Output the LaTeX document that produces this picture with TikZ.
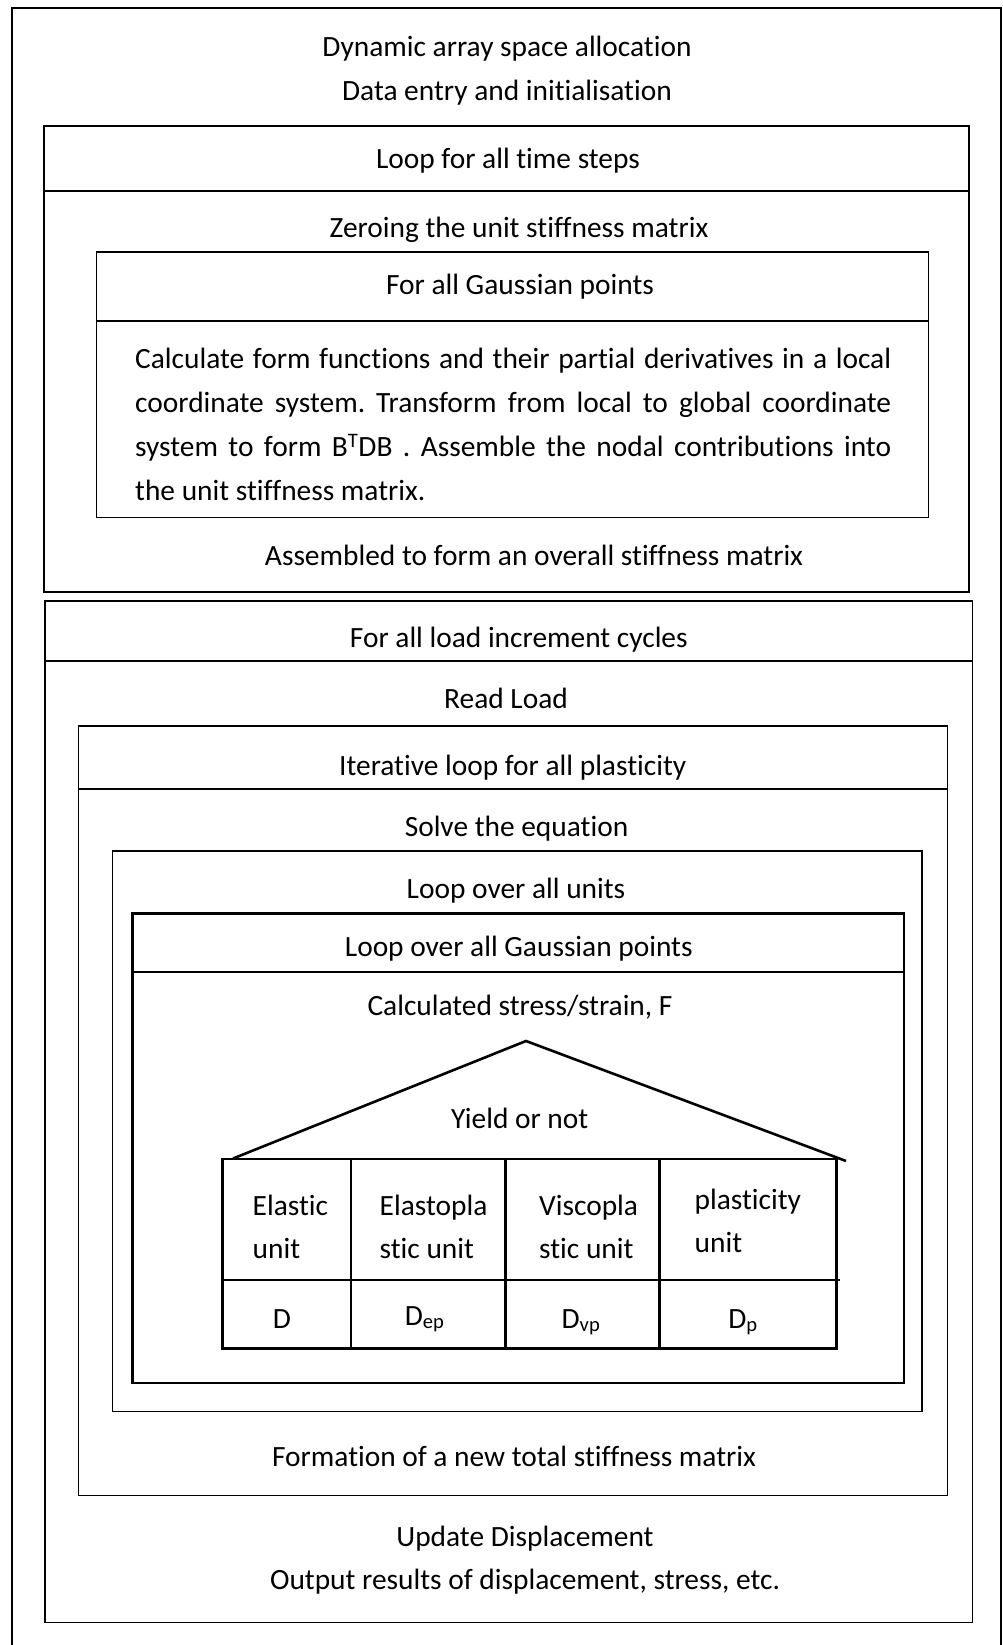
\documentclass[tikz,border=0pt]{standalone}
\usepackage{fontspec}
\setmainfont{Carlito}[Ligatures=NoCommon]
\tikzset{txt/.style={inner sep=0pt,anchor=base,font=\fontsize{29.4}{43}\selectfont\frenchspacing},
         cell/.style={txt,anchor=north west,align=left},
         boxline/.style={draw,line width=1.5pt},
         heavyline/.style={draw,line width=2.6pt}}

\begin{document}
\begin{tikzpicture}[x=1pt,y=-1pt]
\useasboundingbox (0,0) rectangle (1003,1645);
\draw[boxline] (12,1645) -- (12,8) -- (1001,8) -- (1001,1645);
\node[txt] (dyn) at (507,57) {Dynamic array space allocation};
\node[txt] (init) at (507,101) {Data entry and initialisation};

\draw[boxline] (44,126) rectangle (969,592);
\draw[heavyline] (44,191) -- (969,191);
\node[txt] (steps) at (508,169) {Loop for all time steps};
\node[txt] (zero) at (519,237) {Zeroing the unit stiffness matrix};
\draw[boxline] (96.5,252) rectangle (928.5,517.5);
\draw[heavyline] (96.5,321) -- (928.5,321);
\node[txt] (gauss) at (520,294.5) {For all Gaussian points};
\node[txt,anchor=north west,text width=756pt,align=justify,
      font=\fontsize{29.4}{44.2}\selectfont\frenchspacing] (calc) at (135,347.5)
  {Calculate form functions and their partial derivatives in a local\linebreak
   coordinate system. Transform from local to global coordinate\linebreak
   system to form B\textsuperscript{T}DB . Assemble the nodal contributions into\linebreak
   the unit stiffness matrix.};
\node[txt] (assem) at (534,565) {Assembled to form an overall stiffness matrix};

\draw[boxline] (45,601) rectangle (972.7,1622.7);
\draw[heavyline] (45,661) -- (972.7,661);
\node[txt] (cycles) at (518.8,647) {For all load increment cycles};
\node[txt] (readload) at (506,708) {Read Load};
\draw[boxline] (78.5,726) rectangle (947.5,1495.7);
\draw[heavyline] (78.5,789) -- (947.5,789);
\node[txt] (plast) at (512.7,775) {Iterative loop for all plasticity};
\node[txt] (solve) at (516.5,836) {Solve the equation};
\draw[boxline] (112.7,851) rectangle (922,1411.7);
\node[txt] (units) at (516,898) {Loop over all units};
\draw[heavyline] (132.5,913.3) rectangle (904,1383);
\draw[heavyline] (132.5,972) -- (904,972);
\node[txt] (gpoints) at (518.8,956.5) {Loop over all Gaussian points};
\node[txt] (stress) at (520,1015) {Calculated stress/strain, F};

\draw[heavyline] (233,1158.5) -- (526,1041) -- (846,1161);
\node[txt] (yield) at (519.7,1128.5) {Yield or not};
\draw[heavyline] (222.3,1159) rectangle (836.7,1348.5);
\draw[heavyline] (222.3,1280) -- (840,1280);
\foreach \x in {351,505.5,659.3}
  \draw[heavyline] (\x,1159) -- (\x,1348.5);
\node[cell] (elastic) at (252.5,1194.5) {Elastic\\unit};
\node[cell] (elastopla) at (379.5,1194.5) {Elastopla\\stic unit};
\node[cell] (viscopla) at (539,1194.5) {Viscopla\\stic unit};
\node[cell] (plasticity) at (694.5,1188.5) {plasticity\\unit};
\node[txt] (dd) at (282,1328) {D};
\node[txt] (dep) at (424.7,1325) {D\textsubscript{ep}};
\node[txt] (dvp) at (581,1328) {D\textsubscript{vp}};
\node[txt] (dp) at (743,1328) {D\textsubscript{p}};

\node[txt] (newmatrix) at (514,1466.5) {Formation of a new total stiffness matrix};
\node[txt] (update) at (525,1546.5) {Update Displacement};
\node[txt] (output) at (525,1589) {Output results of displacement, stress, etc.};
\end{tikzpicture}
\end{document}
